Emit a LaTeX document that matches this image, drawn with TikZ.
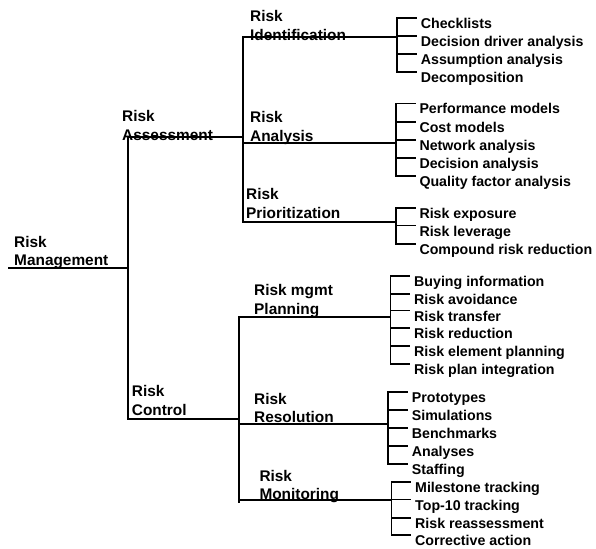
\documentclass[tikz,border=0pt]{standalone}
\usepackage{fontspec}
\setmainfont{Liberation Sans}
\usetikzlibrary{calc}
\begin{document}
\begin{tikzpicture}[x=1pt,y=-1pt]
\tikzset{
 lbl/.style={anchor=west, align=left, inner sep=0pt, font=\bfseries\fontsize{15.4}{18.5}\selectfont},
 leaf/.style={anchor=west, inner sep=0pt, text height=10pt, text depth=0pt, font=\bfseries\fontsize{14.2}{17}\selectfont},
 ln/.style={line width=1.8pt, line cap=rect}
}
\useasboundingbox[fill=white] (0,0) rectangle (596,548);

% labels
\node[lbl] (RM)  at (14,252.5)   {Risk\\Management};
\node[lbl] (RA)  at (122,125.5)  {Risk\\Assessment};
\node[lbl] (RC)  at (131.7,400.7) {Risk\\Control};
\node[lbl] (RI)  at (250,25.5)   {Risk\\Identification};
\node[lbl] (RAn) at (250,128)    {Risk\\Analysis};
\node[lbl] (RP)  at (246,203.5)  {Risk\\Prioritization};
\node[lbl] (RMP) at (254,301)    {Risk mgmt\\Planning};
\node[lbl] (RR)  at (254,407.8)  {Risk\\Resolution};
\node[lbl] (RMo) at (259.3,486.5) {Risk\\Monitoring};

% leaves
\node[leaf] (i1) at (420.7,23.3) {Checklists};
\node[leaf] (i2) at (420.7,41.7) {Decision driver analysis};
\node[leaf] (i3) at (420.7,59.3) {Assumption analysis};
\node[leaf] (i4) at (420.7,77.3) {Decomposition};

\node[leaf] (a1) at (419.3,109) {Performance models};
\node[leaf] (a2) at (419.3,127.3) {Cost models};
\node[leaf] (a3) at (419.3,145.3) {Network analysis};
\node[leaf] (a4) at (419.3,163.3) {Decision analysis};
\node[leaf] (a5) at (419.3,181.7) {Quality factor analysis};

\node[leaf] (p1) at (419.3,213.3) {Risk exposure};
\node[leaf] (p2) at (419.3,231) {Risk leverage};
\node[leaf] (p3) at (419.3,249.3) {Compound risk reduction};

\node[leaf] (m1) at (414,281.7) {Buying information};
\node[leaf] (m2) at (414,299.3) {Risk avoidance};
\node[leaf] (m3) at (414,316) {Risk transfer};
\node[leaf] (m4) at (414,333.3) {Risk reduction};
\node[leaf] (m5) at (414,351.7) {Risk element planning};
\node[leaf] (m6) at (414,369.3) {Risk plan integration};

\node[leaf] (r1) at (411.7,397.3) {Prototypes};
\node[leaf] (r2) at (411.7,415.7) {Simulations};
\node[leaf] (r3) at (411.7,433.3) {Benchmarks};
\node[leaf] (r4) at (411.7,451.7) {Analyses};
\node[leaf] (r5) at (411.7,469.3) {Staffing};

\node[leaf] (o1) at (415,487.7) {Milestone tracking};
\node[leaf] (o2) at (415,505) {Top-10 tracking};
\node[leaf] (o3) at (415,523.3) {Risk reassessment};
\node[leaf] (o4) at (415,540.7) {Corrective action};

% brackets
\foreach \n in {i1,i2,i3,i4,a1,a2,a3,a4,a5,p1,p2,p3,m1,m2,m3,m4,m5,m6,r1,r2,r3,r4,r5,o1,o2,o3,o4}
  \draw[ln] ($(\n.west)+(-4.5,-5.5)$) -- ++(-19,0);
\draw[ln] ($(i1.west)+(-23.5,-5.5)$) coordinate (iT) -- ($(i4.west)+(-23.5,-5.5)$);
\draw[ln] ($(a1.west)+(-23.5,-5.5)$) coordinate (aTT) -- ($(a5.west)+(-23.5,-5.5)$);
\draw[ln] ($(p1.west)+(-23.5,-5.5)$) coordinate (pT) -- ($(p3.west)+(-23.5,-5.5)$);
\draw[ln] ($(m1.west)+(-23.5,-5.5)$) coordinate (mT) -- ($(m6.west)+(-23.5,-5.5)$);
\draw[ln] ($(r1.west)+(-23.5,-5.5)$) coordinate (rT) -- ($(r5.west)+(-23.5,-5.5)$);
\draw[ln] ($(o1.west)+(-23.5,-5.5)$) coordinate (oT) -- ($(o4.west)+(-23.5,-5.5)$);

% tree junctions
\coordinate (rmS) at (9,268);
\coordinate (jA) at (127.7,136.7);
\coordinate (jC) at (127.7,418.7);
\coordinate (aT) at (243,36.7);
\coordinate (aM) at (243,136.7);
\coordinate (aN) at (243,142.7);
\coordinate (aB) at (243,221.7);
\coordinate (cT) at (239.3,316.7);
\coordinate (cM) at (239.3,418.7);
\coordinate (cR) at (239.3,424);
\coordinate (cO) at (239.3,500);
\coordinate (cB) at (239.3,502.3);

\draw[ln] (rmS) -- (rmS -| jA);
\draw[ln] (jA) -- (jC);
\draw[ln] (jA) -- (aM);
\draw[ln] (aT) -- (aB);
\draw[ln] (aT) -- (aT -| iT);
\draw[ln] (aN) -- (aN -| aTT);
\draw[ln] (aB) -- (aB -| pT);
\draw[ln] (jC) -- (cM);
\draw[ln] (cT) -- (cB);
\draw[ln] (cT) -- (cT -| mT);
\draw[ln] (cR) -- (cR -| rT);
\draw[ln] (cO) -- (cO -| oT);
\end{tikzpicture}
\end{document}
